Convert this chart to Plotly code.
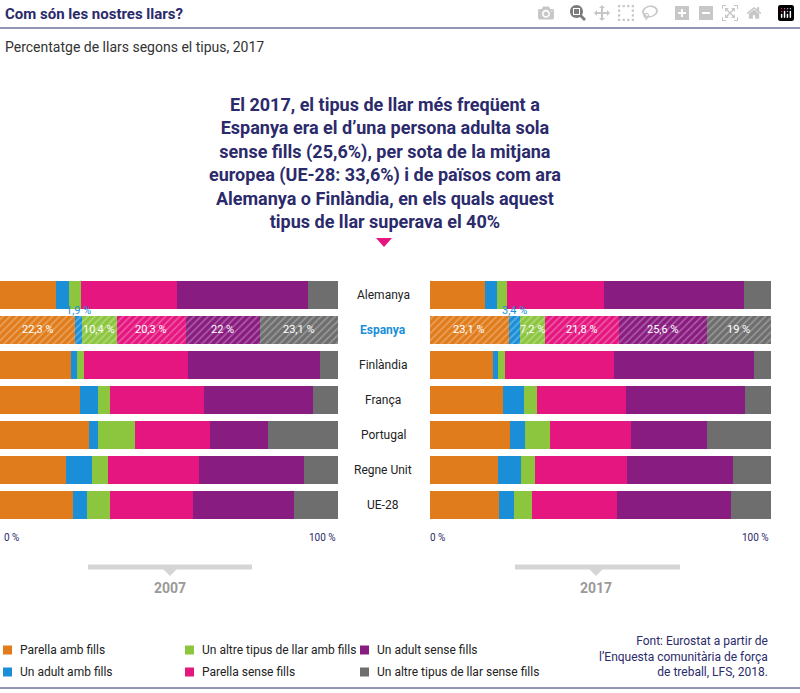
import plotly.graph_objects as go

paisos = ['Alemanya', 'Espanya', 'Finlàndia', 'França', 'Portugal', 'Regne Unit', 'UE-28']
tipus = ['Parella amb fills', 'Un adult amb fills', 'Un altre tipus de llar amb fills',
         'Parella sense fills', 'Un adult sense fills', 'Un altre tipus de llar sense fills']
colors = ['#e07c1b', '#1a8fd8', '#8cc63f', '#e5167f', '#891c80', '#6e6e6e']

v2007 = [
    [16.6, 22.3, 21.0, 23.7, 26.3, 19.5, 21.6],
    [3.8, 1.9, 1.8, 5.3, 2.7, 7.7, 4.1],
    [3.6, 10.4, 2.0, 3.6, 10.9, 4.7, 6.8],
    [28.4, 20.3, 30.8, 27.8, 22.2, 26.9, 24.6],
    [38.8, 22.0, 39.0, 32.2, 17.2, 31.1, 29.9],
    [8.9, 23.1, 5.3, 7.4, 20.7, 10.1, 13.0],
]
v2017 = [
    [16.1, 23.1, 18.5, 21.4, 23.5, 19.9, 20.2],
    [3.5, 3.4, 1.5, 6.2, 4.4, 6.7, 4.4],
    [2.9, 7.2, 2.0, 3.8, 7.3, 4.1, 5.3],
    [28.4, 21.8, 32.0, 26.1, 23.8, 27.0, 24.9],
    [41.1, 25.6, 41.0, 34.9, 22.3, 31.1, 33.4],
    [7.9, 19.0, 5.0, 7.6, 18.8, 11.1, 11.7],
]
etiq2007 = ['22,3 %', '1,9 %', '10,4 %', '20,3 %', '22 %', '23,1 %']
etiq2017 = ['23,1 %', '3,4 %', '7,2 %', '21,8 %', '25,6 %', '19 %']

NAVY = '#2b2a6b'
FONT = 'Roboto'

def py(px):
    return 1 - px / 693

fig = go.Figure()
for panel, (vals, etiq) in enumerate([(v2007, etiq2007), (v2017, etiq2017)]):
    xa = 'x' if panel == 0 else 'x2'
    for i in range(6):
        fig.add_trace(go.Bar(
            y=paisos, x=vals[i], orientation='h', xaxis=xa, yaxis='y',
            marker=dict(color=colors[i], line=dict(width=0),
                        pattern=dict(shape=['/' if p == 'Espanya' else '' for p in paisos],
                                     fgcolor='rgba(255,255,255,0.6)', size=5, solidity=0.3)),
            name=tipus[i], showlegend=False, hoverinfo='x+name'))
    # etiquetes de la fila Espanya
    acum = 0
    for i in range(6):
        v = vals[i][1]
        if i == 1:
            fig.add_annotation(x=acum + v / 2, y='Espanya', xref=xa, yref='y', text=etiq[i],
                               showarrow=False, yshift=19,
                               font=dict(color='#1a8fd8', size=11, family=FONT))
        else:
            fig.add_annotation(x=acum + v / 2, y='Espanya', xref=xa, yref='y', text=etiq[i],
                               showarrow=False, font=dict(color='white', size=11, family=FONT))
        acum += v

fig.update_layout(
    width=800, height=693, margin=dict(l=0, r=0, t=0, b=0),
    paper_bgcolor='white', plot_bgcolor='white', barmode='stack', bargap=0.2,
    xaxis=dict(domain=[0, 338 / 800], range=[0, 100], visible=False),
    xaxis2=dict(domain=[430 / 800, 771 / 800], range=[0, 100], visible=False),
    yaxis=dict(domain=[py(523), py(277)], autorange='reversed', visible=False),
    font=dict(family=FONT),
)

for p in paisos:
    fig.add_annotation(x=383 / 800, y=p, xref='paper', yref='y', text='<b>' + p + '</b>' if p == 'Espanya' else p,
                       showarrow=False, yanchor='middle',
                       font=dict(size=12, family=FONT, color='#1a8fd8' if p == 'Espanya' else '#222'))

ann = [
    (3, 14, '<b>Com són les nostres llars?</b>', 15, NAVY, 'left'),
    (3, 47, 'Percentatge de llars segons el tipus, 2017', 14, '#333', 'left'),
    (2, 537, '0 %', 10, NAVY, 'left'),
    (338, 537, '100 %', 10, NAVY, 'right'),
    (428, 537, '0 %', 10, NAVY, 'left'),
    (771, 537, '100 %', 10, NAVY, 'right'),
    (170, 588, '<b>2007</b>', 14, '#9a9a9a', 'center'),
    (596, 588, '<b>2017</b>', 14, '#9a9a9a', 'center'),
]
for x, y, t, s, c, a in ann:
    fig.add_annotation(x=x / 800, y=py(y), xref='paper', yref='paper', text=t, showarrow=False,
                       xanchor=a, yanchor='middle', font=dict(size=s, color=c, family=FONT))

fig.add_annotation(x=385 / 800, y=py(163), xref='paper', yref='paper', showarrow=False,
                   text='<b>El 2017, el tipus de llar més freqüent a<br>Espanya era el d’una persona adulta sola<br>'
                        'sense fills (25,6%), per sota de la mitjana<br>europea (UE-28: 33,6%) i de països com ara<br>'
                        'Alemanya o Finlàndia, en els quals aquest<br>tipus de llar superava el 40%</b>',
                   font=dict(size=18, color=NAVY, family=FONT), align='center', yanchor='middle')
fig.add_annotation(x=770 / 800, y=py(656), xref='paper', yref='paper', showarrow=False,
                   text='Font: Eurostat a partir de<br>l’Enquesta comunitària de força<br>de treball, LFS, 2018.',
                   font=dict(size=12, color=NAVY, family=FONT), align='right', xanchor='right', yanchor='middle')

leg = [(3, 650, 0), (3, 672, 1), (185, 650, 2), (185, 672, 3), (360, 650, 4), (360, 672, 5)]
for x, y, i in leg:
    fig.add_shape(type='rect', xref='paper', yref='paper', x0=x / 800, x1=(x + 9) / 800,
                  y0=py(y + 4.5), y1=py(y - 4.5), fillcolor=colors[i], line_width=0)
    fig.add_annotation(x=(x + 15) / 800, y=py(y), xref='paper', yref='paper', text=tipus[i],
                       showarrow=False, xanchor='left', yanchor='middle',
                       font=dict(size=12, color='#222', family=FONT))

for y0 in [28, 688]:
    fig.add_shape(type='line', xref='paper', yref='paper', x0=0, x1=1, y0=py(y0), y1=py(y0),
                  line=dict(color=NAVY, width=1))
for a, b, c in [(88, 252, 170), (515, 680, 596)]:
    fig.add_shape(type='line', xref='paper', yref='paper', x0=a / 800, x1=b / 800, y0=py(567), y1=py(567),
                  line=dict(color='#d5d5d5', width=5))
    fig.add_shape(type='path', xref='paper', yref='paper',
                  path=f'M {(c-7)/800} {py(569)} L {(c+7)/800} {py(569)} L {c/800} {py(576)} Z',
                  fillcolor='#d5d5d5', line_width=0)
fig.add_shape(type='path', xref='paper', yref='paper',
              path=f'M {376/800} {py(238)} L {392/800} {py(238)} L {384/800} {py(247)} Z',
              fillcolor='#e5167f', line_width=0)

fig.write_html('out.html', post_script="document.body.style.margin='0';")
